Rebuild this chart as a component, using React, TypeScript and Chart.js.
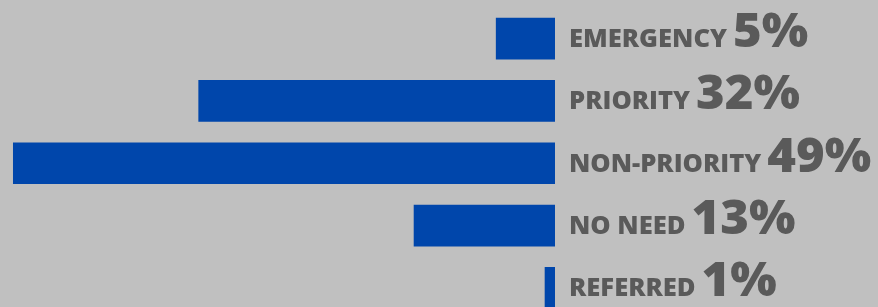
import React, { useEffect, useRef } from "react";
import { Chart, registerables } from "chart.js";

Chart.register(...registerables);

const categories = ["EMERGENCY", "PRIORITY", "NON-PRIORITY", "NO NEED", "REFERRED"];
const values = [5.3, 32.1, 48.8, 12.7, 0.9];
const percentLabels = ["5%", "32%", "49%", "13%", "1%"];

const BG = "#c0c0c0";
const BAR = "#0046ab";
const TEXT = "#5a5a5a";
const CAT_FONT = "800 24px 'Open Sans'";
const PCT_FONT = "800 48px 'Open Sans'";

const labelPlugin = {
  id: "sideLabels",
  afterDatasetsDraw(chart: any) {
    const { ctx, chartArea } = chart;
    const meta = chart.getDatasetMeta(0);
    ctx.save();
    ctx.fillStyle = TEXT;
    ctx.textBaseline = "alphabetic";
    ctx.textAlign = "left";
    ctx.font = CAT_FONT;
    const catScale = 158 / ctx.measureText("EMERGENCY").width;
    ctx.font = PCT_FONT;
    const pctScale = 104 / ctx.measureText("32%").width;
    meta.data.forEach((bar: any, i: number) => {
      const x0 = chartArea.right + 14;
      const yb = bar.y + 8.5;
      ctx.font = CAT_FONT;
      const w = ctx.measureText(categories[i]).width * catScale;
      ctx.save();
      ctx.translate(x0, yb);
      ctx.scale(catScale, 1);
      ctx.fillText(categories[i], 0, 0);
      ctx.restore();
      ctx.font = PCT_FONT;
      ctx.save();
      ctx.translate(x0 + w + 6, yb);
      ctx.scale(pctScale, 1);
      ctx.fillText(percentLabels[i], 0, 0);
      ctx.restore();
    });
    ctx.restore();
  },
};

const bgPlugin = {
  id: "bg",
  beforeDraw(chart: any) {
    const { ctx, width, height } = chart;
    ctx.save();
    ctx.fillStyle = BG;
    ctx.fillRect(0, 0, width, height);
    ctx.restore();
  },
};

export default function App() {
  const ref = useRef<HTMLCanvasElement | null>(null);
  useEffect(() => {
    document.body.style.margin = "0";
    document.body.style.overflow = "hidden";
    document.body.style.background = BG;
    const chart = new Chart(ref.current as HTMLCanvasElement, {
      type: "bar",
      data: {
        labels: categories,
        datasets: [
          {
            data: values,
            backgroundColor: BAR,
            barThickness: 41,
            borderWidth: 0,
          },
        ],
      },
      options: {
        indexAxis: "y",
        animation: false,
        responsive: false,
        maintainAspectRatio: false,
        layout: { padding: { top: 7.5, bottom: 0, left: 0, right: 323 } },
        plugins: { legend: { display: false }, tooltip: { enabled: false } },
        scales: {
          x: { display: false, reverse: true, min: 0, max: 50, grid: { display: false } },
          y: { display: false, grid: { display: false } },
        },
      },
      plugins: [bgPlugin, labelPlugin],
    });
    return () => chart.destroy();
  }, []);
  return (
    <div style={{ width: 878, height: 307, overflow: "hidden" }}>
      <canvas ref={ref} width={878} height={319} style={{ display: "block" }} />
    </div>
  );
}
